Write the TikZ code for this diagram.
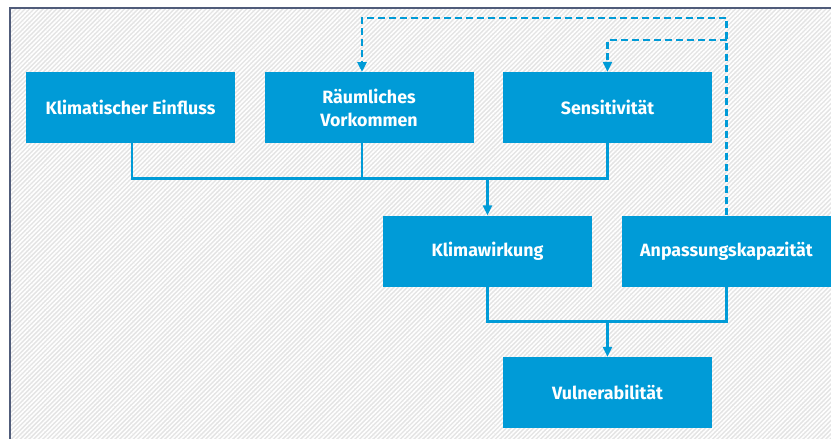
\documentclass[tikz,border=0pt]{standalone}
\usepackage{fontspec}
\setmainfont{Fira Sans}
\usetikzlibrary{arrows.meta,patterns.meta}
\definecolor{ubablue}{RGB}{0,155,215}
\definecolor{framecol}{RGB}{80,92,122}
\definecolor{hatchbg}{RGB}{228,228,228}
\tikzset{
  box/.style={fill=ubablue, text=white, minimum width=209pt, minimum height=71pt,
    inner sep=0pt, align=center, font=\fontsize{17.8}{23}\selectfont\bfseries},
  link/.style={draw=ubablue, line width=2.6pt},
  feedback/.style={draw=ubablue, line width=2.6pt, dash pattern=on 7pt off 4pt},
  tip/.style={-{Triangle[length=10pt,width=9pt]}},
}
\begin{document}
\begin{tikzpicture}[x=1pt,y=-1pt]
  \useasboundingbox (0,0) rectangle (831,439);
  \fill[white] (0,0) rectangle (831,439);
  % hatched panel with its frame
  \path[preaction={fill=hatchbg}, pattern={Lines[angle=45,distance=3.2pt,line width=1.5pt]}, pattern color=white]
    (10,8) rectangle (840,450);
  \draw[framecol, line width=1.2pt] (840,8) -- (10,8) -- (10,450);

  % boxes
  \node[box] (kl) at (130.5,107.5) {Klimatischer Einfluss};
  \node[box] (rv) at (369,107.5) {Räumliches\\Vorkommen};
  \node[box] (se) at (607.5,107.5) {Sensitivität};
  \node[box] (kw) at (487.5,251) {Klimawirkung};
  \node[box] (ak) at (726.5,251) {Anpassungskapazität};
  \node[box] (vu) at (607.5,392.5) {Vulnerabilität};

  % junction points
  \coordinate (klB) at (132,143);
  \coordinate (rvB) at (362,143);
  \coordinate (rvT) at (362,72);
  \coordinate (upL) at (132,178.5);
  \coordinate (upR) at (607.5,178.5);
  \coordinate (upJ) at (487.5,178.5);
  \coordinate (loL) at (487.5,321.5);
  \coordinate (loR) at (726.5,321.5);
  \coordinate (loJ) at (607.5,321.5);
  \coordinate (fbTop) at (726.5,18);
  \coordinate (fbMid) at (726.5,40);

  % solid joins
  \draw[link] (klB) -- (upL) -- (upR) -- (se.south);
  \draw[link] (rvB) -- (362,178.5);
  \draw[link,tip] (upJ) -- (kw.north);
  \draw[link] (kw.south) -- (loL) -- (loR) -- (ak.south);
  \draw[link,tip] (loJ) -- (vu.north);

  % dashed feedback
  \draw[feedback,tip] (ak.north) -- (fbTop) -- (362,18) -- (rvT);
  \draw[feedback,tip] (fbMid) -- (607.5,40) -- (se.north);
\end{tikzpicture}
\end{document}
